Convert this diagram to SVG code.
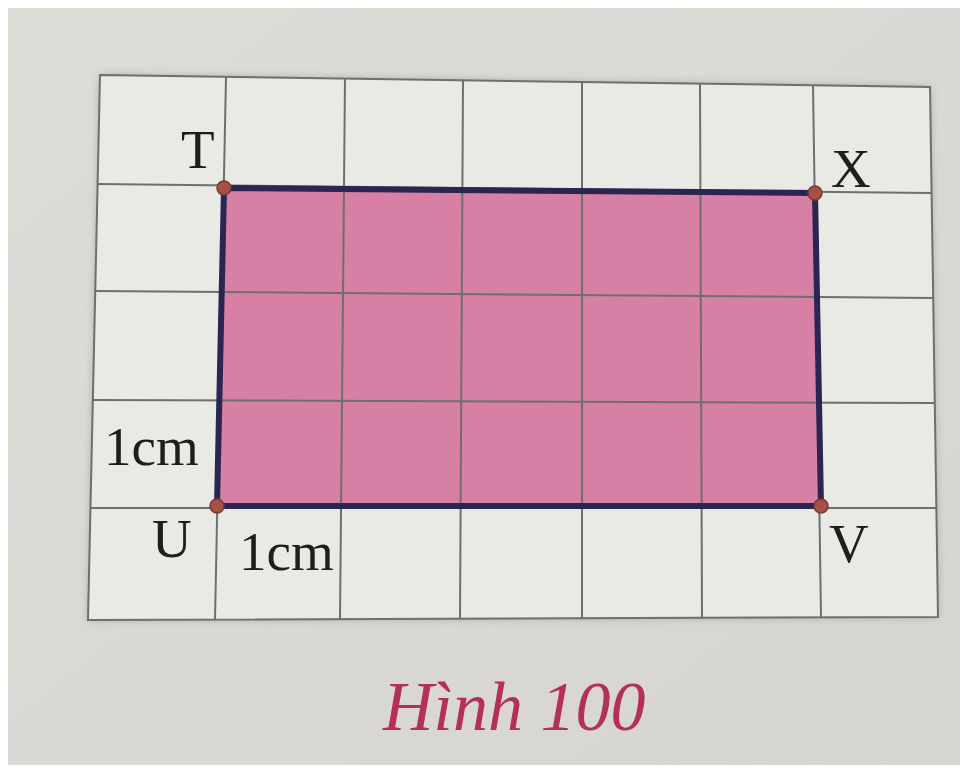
<svg xmlns="http://www.w3.org/2000/svg" width="968" height="773" viewBox="0 0 968 773">
<defs>
<filter id="sh" x="-5%" y="-5%" width="110%" height="110%"><feGaussianBlur stdDeviation="4"/></filter>
<linearGradient id="paper" x1="0" y1="0" x2="1" y2="1"><stop offset="0" stop-color="#dedcd7"/><stop offset="1" stop-color="#d6d5d1"/></linearGradient>
</defs>
<style>
.g{stroke:#6f6f6c;stroke-width:2;fill:none}
.lbl{font-family:"Liberation Serif","Times New Roman",serif;font-size:55px;fill:#1e1e1e}
.pt{fill:#a5514a;stroke:#7a3a2e;stroke-width:1.5}
.cap{font-family:"Liberation Serif","Times New Roman",serif;font-size:70px;font-style:italic;fill:#b53058}
</style>
<rect width="968" height="773" fill="#ffffff"/>
<rect x="8" y="8" width="952" height="757" fill="url(#paper)"/>
<polygon points="100,75 930,87 938,617 88,620" fill="#8a8a86" opacity="0.6" filter="url(#sh)"/>
<polygon points="100,75 930,87 938,617 88,620" fill="#e9e9e5"/>
<polygon id="rect-fill" points="224,188 815,193 821,506 217,506" fill="#d77fa4"/>
<g id="grid">
<line class="g" x1="226" y1="77" x2="215" y2="620"/>
<line class="g" x1="345" y1="78.5" x2="340" y2="619"/>
<line class="g" x1="463" y1="80" x2="460" y2="619"/>
<line class="g" x1="582" y1="82" x2="582" y2="618"/>
<line class="g" x1="700" y1="84" x2="702" y2="618"/>
<line class="g" x1="813" y1="85" x2="821" y2="617"/>
<line class="g" x1="97.6" y1="184" x2="931.6" y2="193"/>
<line class="g" x1="95.2" y1="291" x2="933.2" y2="298"/>
<line class="g" x1="92.8" y1="400" x2="934.7" y2="403"/>
<line class="g" x1="90.5" y1="508" x2="936.4" y2="508"/>
<polygon class="g" points="100,75 930,87 938,617 88,620" stroke="#5a5a57" stroke-width="2.5"/>
</g>
<g id="connectors">
<polygon points="224,188 815,193 821,506 217,506" fill="none" stroke="#2a2552" stroke-width="6" stroke-linejoin="miter"/>
</g>
<g id="T"><circle class="pt" cx="224" cy="188" r="7"/><text class="lbl" x="181" y="168">T</text></g>
<g id="X"><circle class="pt" cx="815" cy="193" r="7"/><text class="lbl" x="831" y="187">X</text></g>
<g id="U"><circle class="pt" cx="217" cy="506" r="7"/><text class="lbl" x="152" y="557">U</text></g>
<g id="V"><circle class="pt" cx="821" cy="506" r="7"/><text class="lbl" x="829" y="562">V</text></g>
<text class="lbl" x="104" y="465">1cm</text>
<text class="lbl" x="239" y="570">1cm</text>
<text class="cap" x="383" y="730">Hình 100</text>
</svg>
